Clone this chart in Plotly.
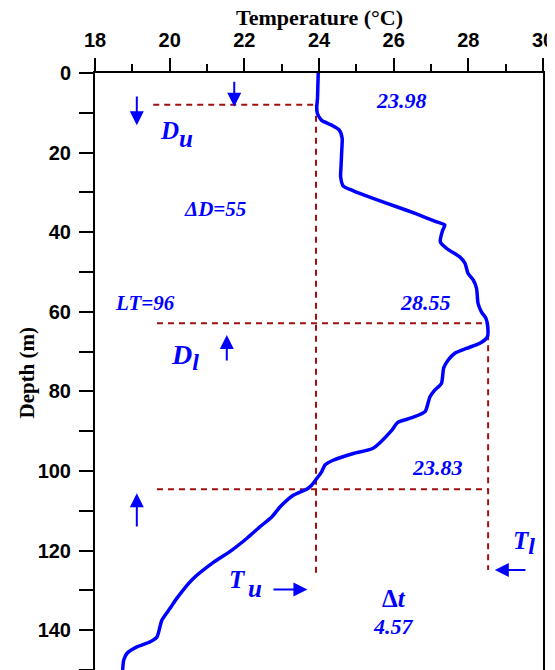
import plotly.graph_objects as go

# ---------------- data ----------------
depth_m = [0.0, 3.0, 6.3, 8.5, 10.1, 11.9, 13.1, 14.3, 16.4, 19.4, 23.5, 26.1, 28.4, 29.6,
           31.5, 33.6, 35.4, 37.4, 38.2, 39.6, 42.4, 44.1, 46.2, 47.8, 50.3, 52.0, 54.1,
           57.9, 60.0, 61.6, 63.8, 66.3, 67.9, 69.2, 70.4, 72.1, 74.1, 78.0, 79.7, 81.4,
           85.1, 86.6, 87.8, 90.0, 94.3, 95.6, 97.3, 98.5, 100.2, 101.9, 103.5, 104.5,
           106.1, 109.0, 111.5, 114.0, 116.9, 120.0, 122.9, 127.3, 132.0, 134.5, 137.5,
           141.7, 142.9, 144.2, 145.8, 147.5, 150.0]
temp_c = [23.98, 23.97, 23.96, 23.94, 23.955, 24.07, 24.34, 24.54, 24.62, 24.61, 24.59,
          24.58, 24.65, 24.92, 25.45, 26.08, 26.61, 27.15, 27.37, 27.31, 27.25, 27.42,
          27.77, 27.91, 27.99, 28.13, 28.22, 28.26, 28.35, 28.47, 28.52, 28.51, 28.31,
          27.95, 27.64, 27.46, 27.34, 27.28, 27.10, 26.97, 26.84, 26.49, 26.11, 25.93,
          25.45, 24.92, 24.38, 24.16, 24.07, 23.94, 23.81, 23.68, 23.31, 22.96, 22.74,
          22.42, 22.07, 21.65, 21.18, 20.60, 20.19, 20.01, 19.79, 19.66, 19.48, 19.12,
          18.86, 18.77, 18.74]

du_depth = 8.0          # upper boundary depth
dl_depth = 62.9         # lower boundary depth (temperature max)
base_depth = 104.6      # depth where temperature returns to Tu
tu_temp = 23.92         # upper temperature line
tl_temp = 28.53         # lower temperature line
guide_left_upper = 19.56
guide_left_lower = 19.66
tu_line_end = 126.4
tl_line_end = 124.9

x_ticks = [18, 20, 22, 24, 26, 28, 30]
y_ticks = [0, 20, 40, 60, 80, 100, 120, 140]

value_labels = ["23.98", "28.55", "23.83", "4.57"]
delta_d_label = "ΔD=55"
lt_label = "LT=96"

BLUE = "#0000FF"
RED = "#A01010"
SERIF = "Liberation Serif"
SANS = "Liberation Sans"

# page offset (browser body margin) compensation
OFF = 8
W, H = 555 - OFF, 670 - OFF
ML, MT = 94.7 - OFF, 72.7 - OFF
MR, MB = 11.7, 0
PW, PH = W - ML - MR, H - MT - MB

fig = go.Figure()

dash_style = dict(color=RED, width=2, dash="6px,5px")
# dashed guide lines
fig.add_trace(go.Scatter(x=[guide_left_upper, tu_temp], y=[du_depth, du_depth],
                         mode="lines", line=dash_style, hoverinfo="skip"))
fig.add_trace(go.Scatter(x=[tu_temp, tu_temp], y=[du_depth, tu_line_end],
                         mode="lines", line=dash_style, hoverinfo="skip"))
fig.add_trace(go.Scatter(x=[guide_left_lower, tl_temp], y=[dl_depth, dl_depth],
                         mode="lines", line=dash_style, hoverinfo="skip"))
fig.add_trace(go.Scatter(x=[tl_temp, tl_temp], y=[dl_depth, tl_line_end],
                         mode="lines", line=dash_style, hoverinfo="skip"))
fig.add_trace(go.Scatter(x=[guide_left_lower, tl_temp], y=[base_depth, base_depth],
                         mode="lines", line=dash_style, hoverinfo="skip"))

# temperature profile
fig.add_trace(go.Scatter(x=temp_c, y=depth_m, mode="lines",
                         line=dict(color=BLUE, width=3.5, shape="spline", smoothing=0.6),
                         hoverinfo="skip"))

ann = []

def txt(x, y, s, size=21, italic=True, bold=True):
    ann.append(dict(x=x, y=y, xref="x", yref="y", text=s, showarrow=False,
                    xanchor="center", yanchor="middle",
                    font=dict(family=SERIF, size=size, color=BLUE,
                              style="italic" if italic else "normal",
                              weight="bold" if bold else "normal")))

def arrow(x0, y0, x1, y1):
    ann.append(dict(x=x1, y=y1, ax=x0, ay=y0, xref="x", yref="y", axref="x", ayref="y",
                    text="", showarrow=True, arrowhead=2, arrowsize=1.4, arrowwidth=2,
                    arrowcolor=BLUE, standoff=0, startstandoff=0))

txt(26.21, 7.0, value_labels[0], 22)
txt(26.84, 57.6, value_labels[1], 22)
txt(27.18, 99.1, value_labels[2], 22)
txt(25.99, 139.0, value_labels[3], 22)
txt(21.22, 34.2, delta_d_label, 21)
txt(19.33, 57.9, lt_label, 21)
# D_u
txt(19.99, 14.4, "D", 25)
txt(20.44, 16.4, "u", 25)
# D_l
txt(20.40, 71.3, "D<sub><span style='font-size:24px'>l</span></sub>", 28)
# T_u
txt(21.83, 127.3, "T", 25)
txt(22.29, 129.6, "u", 25)
# T_l
txt(29.50, 118.0, "T<sub><span style='font-size:24px'>l</span></sub>", 25)
# Delta t
txt(26.0, 132.0, "Δ<i>t</i>", 25, italic=False)

# arrows (tail -> head)
arrow(19.12, 5.5, 19.12, 13.1)
arrow(21.73, 1.8, 21.73, 8.5)
arrow(21.53, 72.6, 21.53, 65.8)
arrow(19.12, 114.3, 19.12, 105.6)
arrow(22.74, 129.8, 23.69, 129.8)
arrow(29.57, 124.9, 28.71, 124.9)

# axis titles (positions in page pixels converted to paper coords)
ann.append(dict(x=0.5, y=1 + (72.7 - 17.5) / PH, xref="paper", yref="paper",
                text="Temperature (°C)", showarrow=False, xanchor="center", yanchor="middle",
                font=dict(family=SERIF, size=22, color="black", weight="bold")))
ann.append(dict(x=-(94.7 - 27) / PW, y=1 - (372 - 72.7) / PH, xref="paper", yref="paper",
                text="Depth (m)", showarrow=False, textangle=-90,
                xanchor="center", yanchor="middle",
                font=dict(family=SERIF, size=21, color="black", weight="bold")))

fig.update_layout(
    width=W, height=H,
    margin=dict(l=ML, r=MR, t=MT, b=MB, pad=0),
    paper_bgcolor="white", plot_bgcolor="white",
    showlegend=False,
    annotations=ann,
    xaxis=dict(range=[18, 30], side="top", tickvals=x_ticks, ticktext=[str(v) for v in x_ticks],
               ticks="outside", ticklen=13, tickwidth=2, tickcolor="black",
               showline=True, linewidth=2, linecolor="black", showgrid=False, zeroline=False,
               minor=dict(dtick=1, ticks="outside", ticklen=7, tickwidth=2, tickcolor="black",
                          showgrid=False),
               tickfont=dict(family=SANS, size=20, color="black", weight="bold"),
               ticklabelstandoff=3),
    yaxis=dict(range=[150, 0], tickvals=y_ticks, ticktext=[str(v) for v in y_ticks],
               ticks="outside", ticklen=14, tickwidth=2, tickcolor="black",
               showline=True, linewidth=2, linecolor="black", mirror=True,
               showgrid=False, zeroline=False,
               minor=dict(dtick=10, ticks="outside", ticklen=14, tickwidth=2,
                          tickcolor="black", showgrid=False),
               tickfont=dict(family=SANS, size=20, color="black", weight="bold"),
               ticklabelstandoff=4),
)

fig.write_html("out.html")
